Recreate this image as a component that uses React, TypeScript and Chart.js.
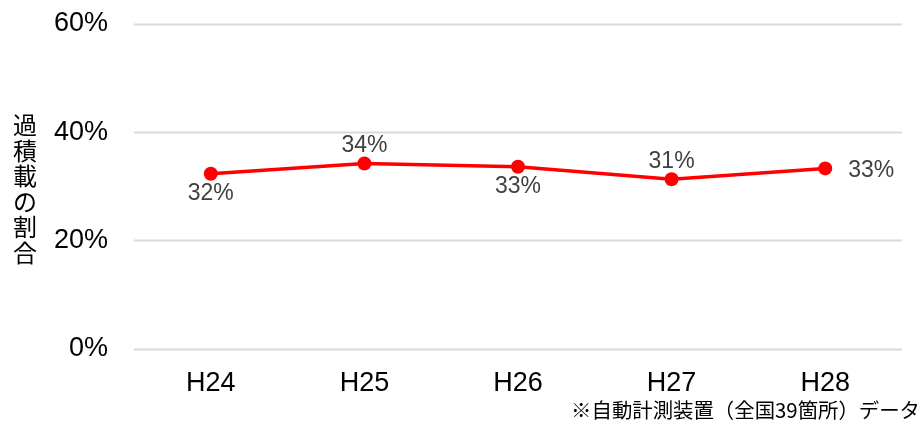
import React, { useEffect, useRef } from "react";
import { Chart, registerables } from "chart.js";

Chart.register(...registerables);

const categories = ["H24", "H25", "H26", "H27", "H28"];
const values = [32.3, 34.2, 33.6, 31.3, 33.3];
const valueLabels = ["32%", "34%", "33%", "31%", "33%"];
const labelPlacement = ["below", "above", "below", "above", "right"];
const yTicks = [0, 20, 40, 60];
const yTitle = "過積載の割合";
const footnote = "※自動計測装置（全国39箇所）データ";

const LATIN = '"Liberation Sans", Arial, sans-serif';
const CJK = '"Noto Sans CJK JP", "Liberation Sans", sans-serif';

const extrasPlugin = {
  id: "extras",
  beforeDatasetsDraw(chart: any) {
    const ctx = chart.ctx;
    const a = chart.chartArea;
    const y = chart.scales.y;
    ctx.save();
    ctx.strokeStyle = "#D9D9D9";
    ctx.lineWidth = 2;
    yTicks.forEach((v) => {
      const py = Math.round(y.getPixelForValue(v)) + 0.5;
      ctx.beginPath();
      ctx.moveTo(a.left, py);
      ctx.lineTo(a.right, py);
      ctx.stroke();
    });
    ctx.restore();
  },
  afterDatasetsDraw(chart: any) {
    const ctx = chart.ctx;
    const meta = chart.getDatasetMeta(0);
    ctx.save();
    ctx.font = `23px ${LATIN}`;
    ctx.fillStyle = "#404040";
    meta.data.forEach((pt: any, i: number) => {
      const pos = labelPlacement[i];
      let x = pt.x;
      let y = pt.y;
      if (pos === "below") {
        ctx.textAlign = "center";
        ctx.textBaseline = "middle";
        y += 20;
      } else if (pos === "above") {
        ctx.textAlign = "center";
        ctx.textBaseline = "middle";
        y -= 18;
      } else {
        ctx.textAlign = "left";
        ctx.textBaseline = "middle";
        x += 23;
        y += 2;
      }
      ctx.fillText(valueLabels[i], x, y);
    });
    ctx.restore();
  },
  afterDraw(chart: any) {
    const ctx = chart.ctx;
    ctx.save();
    ctx.fillStyle = "#000000";
    ctx.font = `24px ${CJK}`;
    ctx.textAlign = "center";
    ctx.textBaseline = "middle";
    const chars = Array.from(yTitle);
    chars.forEach((c, i) => {
      ctx.fillText(c, 25, 125 + i * 25.5);
    });
    ctx.font = `20.4px ${CJK}`;
    ctx.textAlign = "right";
    ctx.textBaseline = "alphabetic";
    ctx.fillText(footnote, 920, 418);
    ctx.restore();
  },
};

export default function App() {
  const canvasRef = useRef<HTMLCanvasElement | null>(null);

  useEffect(() => {
    document.body.style.margin = "0";
    const canvas = canvasRef.current;
    if (!canvas) return;
    const chart = new Chart(canvas, {
      type: "line",
      data: {
        labels: categories,
        datasets: [
          {
            data: values,
            borderColor: "#FF0000",
            backgroundColor: "#FF0000",
            borderWidth: 3.5,
            pointRadius: 7,
            pointBackgroundColor: "#FF0000",
            pointBorderColor: "#FF0000",
            pointBorderWidth: 0,
            tension: 0,
          },
        ],
      },
      options: {
        animation: false,
        responsive: false,
        maintainAspectRatio: false,
        layout: { padding: { top: 24, right: 22, bottom: 0, left: 0 } },
        plugins: {
          legend: { display: false },
          tooltip: { enabled: false },
        },
        scales: {
          x: {
            offset: true,
            grid: { display: false, drawTicks: false },
            border: { display: false },
            ticks: {
              color: "#000000",
              font: { family: LATIN, size: 27 },
              padding: 19,
              maxRotation: 0,
            },
            afterFit(scale: any) {
              scale.height = 74.5;
            },
          },
          y: {
            min: 0,
            max: 60,
            afterBuildTicks(scale: any) {
              scale.ticks = yTicks.map((v) => ({ value: v }));
            },
            grid: { display: false, drawTicks: false },
            border: { display: false },
            ticks: {
              color: "#000000",
              font: { family: LATIN, size: 27 },
              padding: 26,
              callback: (v: any) => `${v}%`,
            },
            afterFit(scale: any) {
              scale.width = 134;
              scale.paddingTop = 0;
              scale.paddingBottom = 0;
            },
          },
        },
      },
      plugins: [extrasPlugin],
    });
    return () => chart.destroy();
  }, []);

  return (
    <div style={{ width: 924, height: 423, position: "relative" }}>
      <canvas ref={canvasRef} width={924} height={423} style={{ display: "block", width: 924, height: 423 }} />
    </div>
  );
}
